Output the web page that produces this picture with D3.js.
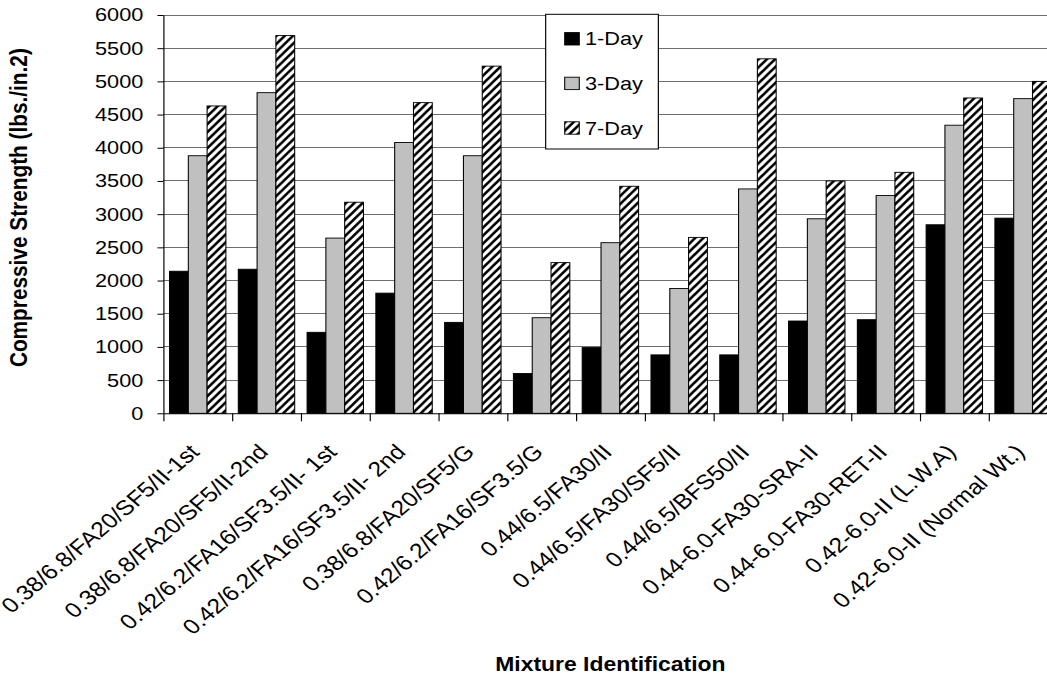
<!DOCTYPE html>
<html>
<head>
<meta charset="utf-8">
<script src="https://cdn.jsdelivr.net/npm/d3@7"></script>
<style>
  html, body { margin: 0; padding: 0; background: #fff; }
  svg { display: block; font-family: "Liberation Sans", Arial, sans-serif; }
</style>
</head>
<body>
<svg id="chart" width="1047" height="677"></svg>
<script>
// ---- data ----
const categories = [
  "0.38/6.8/FA20/SF5/II-1st",
  "0.38/6.8/FA20/SF5/II-2nd",
  "0.42/6.2/FA16/SF3.5/II- 1st",
  "0.42/6.2/FA16/SF3.5/II- 2nd",
  "0.38/6.8/FA20/SF5/G",
  "0.42/6.2/FA16/SF3.5/G",
  "0.44/6.5/FA30/II",
  "0.44/6.5/FA30/SF5/II",
  "0.44/6.5/BFS50/II",
  "0.44-6.0-FA30-SRA-II",
  "0.44-6.0-FA30-RET-II",
  "0.42-6.0-II (L.W.A)",
  "0.42-6.0-II (Normal Wt.)"
];
const seriesNames = ["1-Day", "3-Day", "7-Day"];
const day1 = [2140, 2170, 1220, 1810, 1370, 600, 990, 880, 880, 1390, 1410, 2840, 2940];
const day3 = [3880, 4830, 2640, 4080, 3880, 1440, 2570, 1880, 3380, 2930, 3280, 4340, 4740];
const day7 = [4630, 5690, 3180, 4680, 5230, 2270, 3420, 2650, 5340, 3500, 3630, 4750, 5000];
const yTicks = [0, 500, 1000, 1500, 2000, 2500, 3000, 3500, 4000, 4500, 5000, 5500, 6000];
const yTitle = "Compressive Strength (lbs./in.2)";
const xTitle = "Mixture Identification";

const seriesValues = [day1, day3, day7];

// ---- layout ----
const SX = 1.175;             // horizontal stretch of the whole picture
const svg = d3.select("#chart");
const root = svg.append("g").attr("transform", `scale(${SX},1)`);

const mLeft = 139, mTop = 15, plotW = 761, plotH = 398.3;
const fills = ["#000000", "#C0C0C0", "url(#hatch)"];

const defs = svg.append("defs");
const pat = defs.append("pattern")
  .attr("id", "hatch").attr("patternUnits", "userSpaceOnUse")
  .attr("width", 7).attr("height", 8);
pat.append("rect").attr("width", 7).attr("height", 8).attr("fill", "#fff");
pat.append("path")
  .attr("d", "M-0.5,8.57 L7.5,-0.57 M-4,4.57 L3.5,-4 M3.5,12 L11,3.43")
  .attr("stroke", "#000").attr("stroke-width", 2.4);

const g = root.append("g").attr("transform", `translate(${mLeft},${mTop})`);

const y = d3.scaleLinear().domain([0, 6000]).range([plotH, 0]);
const x0 = d3.scaleBand().domain(categories).range([0, plotW]).paddingInner(0).paddingOuter(0);
const x1 = d3.scaleBand().domain(seriesNames).range([0, x0.bandwidth()]).paddingInner(0).paddingOuter(0.33);
const xEdge = d3.scaleLinear().domain([0, categories.length]).range([0, plotW]);

// gridlines
g.append("g").selectAll("line").data(yTicks.filter(d => d > 0)).join("line")
  .attr("x1", 0).attr("x2", plotW)
  .attr("y1", d => y(d)).attr("y2", d => y(d))
  .attr("stroke", "#6e6e6e").attr("stroke-width", 1)
  .attr("shape-rendering", "crispEdges");

// bars
const groups = g.append("g").selectAll("g").data(categories).join("g")
  .attr("transform", d => `translate(${x0(d)},0)`);
groups.selectAll("rect")
  .data((d, i) => seriesNames.map((s, k) => ({ s, k, v: seriesValues[k][i] })))
  .join("rect")
  .attr("x", d => x1(d.s))
  .attr("width", x1.bandwidth())
  .attr("y", d => y(d.v))
  .attr("height", d => y(0) - y(d.v))
  .attr("fill", d => fills[d.k])
  .attr("stroke", "#000").attr("stroke-width", 0.9);

// y axis
const yAxis = g.append("g")
  .call(d3.axisLeft(y).tickValues(yTicks).tickFormat(d3.format("d"))
    .tickSizeInner(5).tickSizeOuter(0).tickPadding(12));
yAxis.selectAll("line, path").attr("stroke", "#000");
yAxis.selectAll("text").attr("font-size", "18.5px").attr("fill", "#000")
  .attr("font-family", "'Liberation Sans', Arial, sans-serif");

// x axis: boundary ticks
const xAxis = g.append("g").attr("transform", `translate(0,${plotH})`)
  .call(d3.axisBottom(xEdge).tickValues(d3.range(0, categories.length + 1))
    .tickFormat("").tickSizeInner(8).tickSizeOuter(0));
xAxis.selectAll("line, path").attr("stroke", "#000");

// x axis: category labels
const xLab = g.append("g").attr("transform", `translate(0,${plotH})`)
  .call(d3.axisBottom(x0).tickSize(0).tickPadding(0));
xLab.select(".domain").remove();
xLab.selectAll("text")
  .attr("x", 0).attr("y", 0).attr("dy", null)
  .attr("text-anchor", "end")
  .attr("transform", "translate(2.5,40) rotate(-45)")
  .attr("font-size", "21px").attr("fill", "#000")
  .attr("font-family", "'Liberation Sans', Arial, sans-serif");

// axis titles
root.append("text")
  .attr("transform", `translate(22.6,${mTop + plotH / 2 - 6.5}) rotate(-90)`)
  .attr("text-anchor", "middle").attr("font-weight", "bold")
  .attr("font-size", "20.8px").text(yTitle);
root.append("text")
  .attr("x", mLeft + plotW / 2).attr("y", 670.7)
  .attr("text-anchor", "middle").attr("font-weight", "bold")
  .attr("font-size", "19.5px").text(xTitle);

// legend
const leg = root.append("g");
leg.append("rect")
  .attr("x", 464.4).attr("y", 14.3).attr("width", 95.9).attr("height", 134.7)
  .attr("fill", "#fff").attr("stroke", "#000").attr("stroke-width", 1);
const legY = d3.scalePoint().domain(seriesNames).range([38.8, 128]);
const items = leg.selectAll("g.item").data(seriesNames).join("g").attr("class", "item")
  .attr("transform", d => `translate(0,${legY(d)})`);
items.append("rect")
  .attr("x", 480.6).attr("y", -6.2).attr("width", 12.4).attr("height", 12.4)
  .attr("fill", (d, k) => fills[k]).attr("stroke", "#000").attr("stroke-width", 0.9);
items.append("text")
  .attr("x", 497.9).attr("dy", "0.36em")
  .attr("font-size", "18.5px").text(d => d);
</script>
</body>
</html>
